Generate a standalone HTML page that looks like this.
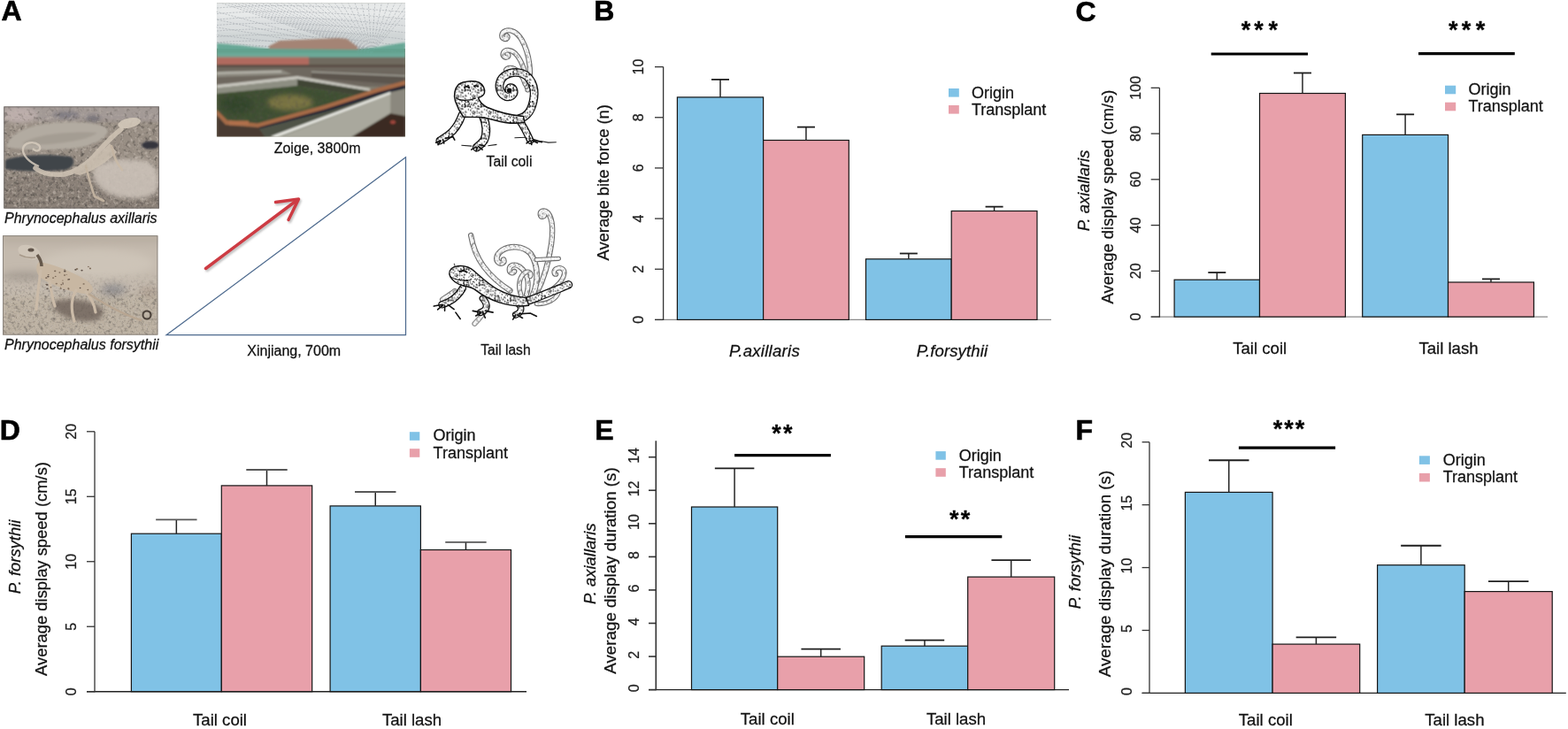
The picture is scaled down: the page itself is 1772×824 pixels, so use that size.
<!DOCTYPE html>
<html><head><meta charset="utf-8"><title>Figure</title>
<style>
html,body{margin:0;padding:0;background:#fff;}
body{width:1772px;height:824px;overflow:hidden;}
svg{display:block;font-family:'Liberation Sans', Arial, Helvetica, sans-serif;}
text{stroke:#1a1a1a;stroke-width:0.28px;}
text.pl{stroke:#000;stroke-width:0.6px;}
</style></head><body>
<svg width="1772" height="824" viewBox="0 0 1772 824">
<rect width="1772" height="824" fill="#fff"/>
<text x="1.5" y="23.4" font-size="32" text-anchor="start" style="font-weight:bold" fill="#000" class="pl">A</text>
<text x="671.2" y="23.2" font-size="32" text-anchor="start" style="font-weight:bold" fill="#000" class="pl">B</text>
<text x="1215.5" y="23.9" font-size="32" text-anchor="start" style="font-weight:bold" fill="#000" class="pl">C</text>
<text x="-0.3" y="496.7" font-size="32" text-anchor="start" style="font-weight:bold" fill="#000" class="pl">D</text>
<text x="672.2" y="496.9" font-size="32" text-anchor="start" style="font-weight:bold" fill="#000" class="pl">E</text>
<text x="1215.5" y="496.5" font-size="32" text-anchor="start" style="font-weight:bold" fill="#000" class="pl">F</text>
<line x1="740" y1="361.4" x2="1188" y2="361.4" stroke="#8a8a8a" stroke-width="1.2" stroke-linecap="butt"/>
<rect x="765.4" y="109.9" width="97.2" height="251.5" fill="#80c2e6" stroke="#151515" stroke-width="1.2"/>
<rect x="862.6" y="158.5" width="96.7" height="202.9" fill="#e8a0aa" stroke="#151515" stroke-width="1.2"/>
<rect x="978.5" y="292.8" width="96.7" height="68.6" fill="#80c2e6" stroke="#151515" stroke-width="1.2"/>
<rect x="1075.2" y="238.5" width="96.8" height="122.9" fill="#e8a0aa" stroke="#151515" stroke-width="1.2"/>
<line x1="814.0" y1="89.88999999999999" x2="814.0" y2="109.89599999999996" stroke="#262626" stroke-width="1.5" stroke-linecap="butt"/>
<line x1="804.0" y1="89.88999999999999" x2="824.0" y2="89.88999999999999" stroke="#1e1e1e" stroke-width="1.8" stroke-linecap="butt"/>
<line x1="910.95" y1="143.6204" x2="910.95" y2="158.482" stroke="#262626" stroke-width="1.5" stroke-linecap="butt"/>
<line x1="900.95" y1="143.6204" x2="920.95" y2="143.6204" stroke="#1e1e1e" stroke-width="1.8" stroke-linecap="butt"/>
<line x1="1026.85" y1="286.5204" x2="1026.85" y2="292.808" stroke="#262626" stroke-width="1.5" stroke-linecap="butt"/>
<line x1="1016.8499999999999" y1="286.5204" x2="1036.85" y2="286.5204" stroke="#1e1e1e" stroke-width="1.8" stroke-linecap="butt"/>
<line x1="1123.6" y1="233.6474" x2="1123.6" y2="238.50599999999997" stroke="#262626" stroke-width="1.5" stroke-linecap="butt"/>
<line x1="1113.6" y1="233.6474" x2="1133.6" y2="233.6474" stroke="#1e1e1e" stroke-width="1.8" stroke-linecap="butt"/>
<line x1="749.6" y1="75.60000000000002" x2="749.6" y2="362.0" stroke="#333" stroke-width="1.3" stroke-linecap="butt"/>
<line x1="740" y1="361.4" x2="749.6" y2="361.4" stroke="#333" stroke-width="1.3" stroke-linecap="butt"/>
<text transform="translate(726.8,361.4) rotate(-90)" font-size="16" text-anchor="middle" style="" fill="#222" >0</text>
<line x1="740" y1="304.24" x2="749.6" y2="304.24" stroke="#333" stroke-width="1.3" stroke-linecap="butt"/>
<text transform="translate(726.8,304.2) rotate(-90)" font-size="16" text-anchor="middle" style="" fill="#222" >2</text>
<line x1="740" y1="247.07999999999998" x2="749.6" y2="247.07999999999998" stroke="#333" stroke-width="1.3" stroke-linecap="butt"/>
<text transform="translate(726.8,247.1) rotate(-90)" font-size="16" text-anchor="middle" style="" fill="#222" >4</text>
<line x1="740" y1="189.92" x2="749.6" y2="189.92" stroke="#333" stroke-width="1.3" stroke-linecap="butt"/>
<text transform="translate(726.8,189.9) rotate(-90)" font-size="16" text-anchor="middle" style="" fill="#222" >6</text>
<line x1="740" y1="132.76" x2="749.6" y2="132.76" stroke="#333" stroke-width="1.3" stroke-linecap="butt"/>
<text transform="translate(726.8,132.8) rotate(-90)" font-size="16" text-anchor="middle" style="" fill="#222" >8</text>
<line x1="740" y1="75.60000000000002" x2="749.6" y2="75.60000000000002" stroke="#333" stroke-width="1.3" stroke-linecap="butt"/>
<text transform="translate(726.8,75.6) rotate(-90)" font-size="16" text-anchor="middle" style="" fill="#222" >10</text>
<rect x="1072" y="100" width="11.8" height="9.6" fill="#80c2e6"/>
<rect x="1072" y="119" width="11.8" height="9.6" fill="#e8a0aa"/>
<text x="1098" y="111.2" font-size="18" text-anchor="start" style="" fill="#111" >Origin</text>
<text x="1098" y="130.2" font-size="18" text-anchor="start" style="" fill="#111" >Transplant</text>
<text x="864" y="402.6" font-size="18.6" text-anchor="middle" style="font-style:italic" fill="#111" letter-spacing="0.25">P.axillaris</text>
<text x="1076" y="402.6" font-size="18.6" text-anchor="middle" style="font-style:italic" fill="#111" letter-spacing="0.1">P.forsythii</text>
<text transform="translate(688.4,206.3) rotate(-90)" font-size="18.4" text-anchor="middle" style="" fill="#111" >Average bite force (n)</text>
<line x1="1300.7" y1="358.1" x2="1749" y2="358.1" stroke="#8a8a8a" stroke-width="1.2" stroke-linecap="butt"/>
<rect x="1327.1" y="316.2" width="96.4" height="41.9" fill="#80c2e6" stroke="#151515" stroke-width="1.2"/>
<rect x="1423.5" y="105.5" width="96.9" height="252.6" fill="#e8a0aa" stroke="#151515" stroke-width="1.2"/>
<rect x="1539.7" y="152.4" width="96.8" height="205.7" fill="#80c2e6" stroke="#151515" stroke-width="1.2"/>
<rect x="1636.5" y="319.0" width="96.9" height="39.1" fill="#e8a0aa" stroke="#151515" stroke-width="1.2"/>
<line x1="1375.3" y1="308.0222" x2="1375.3" y2="316.1744" stroke="#262626" stroke-width="1.5" stroke-linecap="butt"/>
<line x1="1365.3" y1="308.0222" x2="1385.3" y2="308.0222" stroke="#1e1e1e" stroke-width="1.8" stroke-linecap="butt"/>
<line x1="1471.95" y1="82.47800000000001" x2="1471.95" y2="105.51120000000003" stroke="#262626" stroke-width="1.5" stroke-linecap="butt"/>
<line x1="1461.95" y1="82.47800000000001" x2="1481.95" y2="82.47800000000001" stroke="#1e1e1e" stroke-width="1.8" stroke-linecap="butt"/>
<line x1="1588.1" y1="129.3208" x2="1588.1" y2="152.354" stroke="#262626" stroke-width="1.5" stroke-linecap="butt"/>
<line x1="1578.1" y1="129.3208" x2="1598.1" y2="129.3208" stroke="#1e1e1e" stroke-width="1.8" stroke-linecap="butt"/>
<line x1="1684.95" y1="315.398" x2="1684.95" y2="319.0212" stroke="#262626" stroke-width="1.5" stroke-linecap="butt"/>
<line x1="1674.95" y1="315.398" x2="1694.95" y2="315.398" stroke="#1e1e1e" stroke-width="1.8" stroke-linecap="butt"/>
<line x1="1310.4" y1="99.30000000000001" x2="1310.4" y2="358.70000000000005" stroke="#333" stroke-width="1.3" stroke-linecap="butt"/>
<line x1="1300.7" y1="358.1" x2="1310.4" y2="358.1" stroke="#333" stroke-width="1.3" stroke-linecap="butt"/>
<text transform="translate(1289.2,358.1) rotate(-90)" font-size="16" text-anchor="middle" style="" fill="#222" >0</text>
<line x1="1300.7" y1="306.34000000000003" x2="1310.4" y2="306.34000000000003" stroke="#333" stroke-width="1.3" stroke-linecap="butt"/>
<text transform="translate(1289.2,306.3) rotate(-90)" font-size="16" text-anchor="middle" style="" fill="#222" >20</text>
<line x1="1300.7" y1="254.58" x2="1310.4" y2="254.58" stroke="#333" stroke-width="1.3" stroke-linecap="butt"/>
<text transform="translate(1289.2,254.6) rotate(-90)" font-size="16" text-anchor="middle" style="" fill="#222" >40</text>
<line x1="1300.7" y1="202.82000000000002" x2="1310.4" y2="202.82000000000002" stroke="#333" stroke-width="1.3" stroke-linecap="butt"/>
<text transform="translate(1289.2,202.8) rotate(-90)" font-size="16" text-anchor="middle" style="" fill="#222" >60</text>
<line x1="1300.7" y1="151.06" x2="1310.4" y2="151.06" stroke="#333" stroke-width="1.3" stroke-linecap="butt"/>
<text transform="translate(1289.2,151.1) rotate(-90)" font-size="16" text-anchor="middle" style="" fill="#222" >80</text>
<line x1="1300.7" y1="99.30000000000001" x2="1310.4" y2="99.30000000000001" stroke="#333" stroke-width="1.3" stroke-linecap="butt"/>
<text transform="translate(1289.2,99.3) rotate(-90)" font-size="16" text-anchor="middle" style="" fill="#222" >100</text>
<rect x="1633" y="96.7" width="12.2" height="9.6" fill="#80c2e6"/>
<rect x="1633" y="115.7" width="12.2" height="9.6" fill="#e8a0aa"/>
<text x="1659.5" y="107.3" font-size="18" text-anchor="start" style="" fill="#111" >Origin</text>
<text x="1659.5" y="126.4" font-size="18" text-anchor="start" style="" fill="#111" >Transplant</text>
<text x="1423.7" y="399.5" font-size="18.6" text-anchor="middle" style="" fill="#111" >Tail coil</text>
<text x="1637" y="399.5" font-size="18.6" text-anchor="middle" style="" fill="#111" >Tail lash</text>
<text transform="translate(1257.5,222.5) rotate(-90)" font-size="18.4" text-anchor="middle" style="" fill="#111" >Average display speed (cm/s)</text>
<text transform="translate(1231.4,215.5) rotate(-90)" font-size="18.4" text-anchor="middle" style="font-style:italic" fill="#111" >P. axiallaris</text>
<line x1="1368.7" y1="61" x2="1478" y2="61" stroke="#000" stroke-width="3.2" stroke-linecap="butt"/>
<text x="1408" y="43.3" font-size="27" text-anchor="middle" style="font-weight:bold" fill="#000" >*</text>
<text x="1422.5" y="43.3" font-size="27" text-anchor="middle" style="font-weight:bold" fill="#000" >*</text>
<text x="1438.8" y="43.3" font-size="27" text-anchor="middle" style="font-weight:bold" fill="#000" >*</text>
<line x1="1603" y1="60.7" x2="1711.8" y2="60.7" stroke="#000" stroke-width="3.2" stroke-linecap="butt"/>
<text x="1642.3" y="43.2" font-size="27" text-anchor="middle" style="font-weight:bold" fill="#000" >*</text>
<text x="1656.9" y="43.2" font-size="27" text-anchor="middle" style="font-weight:bold" fill="#000" >*</text>
<text x="1672.9" y="43.2" font-size="27" text-anchor="middle" style="font-weight:bold" fill="#000" >*</text>
<line x1="98" y1="781.7" x2="595" y2="781.7" stroke="#222" stroke-width="1.4" stroke-linecap="butt"/>
<rect x="148.4" y="603.2" width="101.9" height="178.5" fill="#80c2e6" stroke="#151515" stroke-width="1.2"/>
<rect x="250.3" y="548.9" width="102.4" height="232.8" fill="#e8a0aa" stroke="#151515" stroke-width="1.2"/>
<rect x="373.1" y="571.9" width="102.3" height="209.8" fill="#80c2e6" stroke="#151515" stroke-width="1.2"/>
<rect x="475.4" y="621.5" width="102.1" height="160.2" fill="#e8a0aa" stroke="#151515" stroke-width="1.2"/>
<line x1="199.35000000000002" y1="587.4321" x2="199.35000000000002" y2="603.15575" stroke="#222" stroke-width="1.5" stroke-linecap="butt"/>
<line x1="176.15000000000003" y1="587.4321" x2="222.55" y2="587.4321" stroke="#585858" stroke-width="1.8" stroke-linecap="butt"/>
<line x1="301.5" y1="531.0033000000001" x2="301.5" y2="548.9312" stroke="#222" stroke-width="1.5" stroke-linecap="butt"/>
<line x1="278.3" y1="531.0033000000001" x2="324.7" y2="531.0033000000001" stroke="#585858" stroke-width="1.8" stroke-linecap="butt"/>
<line x1="424.25" y1="555.9848000000001" x2="424.25" y2="571.8554" stroke="#222" stroke-width="1.5" stroke-linecap="butt"/>
<line x1="401.05" y1="555.9848000000001" x2="447.45" y2="555.9848000000001" stroke="#585858" stroke-width="1.8" stroke-linecap="butt"/>
<line x1="526.45" y1="612.85445" x2="526.45" y2="621.5245" stroke="#222" stroke-width="1.5" stroke-linecap="butt"/>
<line x1="503.25000000000006" y1="612.85445" x2="549.6500000000001" y2="612.85445" stroke="#585858" stroke-width="1.8" stroke-linecap="butt"/>
<line x1="107" y1="487.80000000000007" x2="107" y2="782.3000000000001" stroke="#333" stroke-width="1.3" stroke-linecap="butt"/>
<line x1="98" y1="781.7" x2="107" y2="781.7" stroke="#333" stroke-width="1.3" stroke-linecap="butt"/>
<text transform="translate(85.7,781.7) rotate(-90)" font-size="16" text-anchor="middle" style="" fill="#222" >0</text>
<line x1="98" y1="708.225" x2="107" y2="708.225" stroke="#333" stroke-width="1.3" stroke-linecap="butt"/>
<text transform="translate(85.7,708.2) rotate(-90)" font-size="16" text-anchor="middle" style="" fill="#222" >5</text>
<line x1="98" y1="634.75" x2="107" y2="634.75" stroke="#333" stroke-width="1.3" stroke-linecap="butt"/>
<text transform="translate(85.7,634.8) rotate(-90)" font-size="16" text-anchor="middle" style="" fill="#222" >10</text>
<line x1="98" y1="561.2750000000001" x2="107" y2="561.2750000000001" stroke="#333" stroke-width="1.3" stroke-linecap="butt"/>
<text transform="translate(85.7,561.3) rotate(-90)" font-size="16" text-anchor="middle" style="" fill="#222" >15</text>
<line x1="98" y1="487.80000000000007" x2="107" y2="487.80000000000007" stroke="#333" stroke-width="1.3" stroke-linecap="butt"/>
<text transform="translate(85.7,487.8) rotate(-90)" font-size="16" text-anchor="middle" style="" fill="#222" >20</text>
<rect x="462.9" y="488.2" width="11.4" height="9.6" fill="#80c2e6"/>
<rect x="462.9" y="507.2" width="11.4" height="9.6" fill="#e8a0aa"/>
<text x="489.6" y="498.2" font-size="18" text-anchor="start" style="" fill="#111" >Origin</text>
<text x="489.6" y="517.7" font-size="18" text-anchor="start" style="" fill="#111" >Transplant</text>
<text x="248.5" y="819.9" font-size="18.6" text-anchor="middle" style="" fill="#111" >Tail coil</text>
<text x="465.5" y="820.2" font-size="18.6" text-anchor="middle" style="" fill="#111" >Tail lash</text>
<text transform="translate(52.6,643) rotate(-90)" font-size="18.4" text-anchor="middle" style="" fill="#111" >Average display speed (cm/s)</text>
<text transform="translate(22.6,629.4) rotate(-90)" font-size="18.4" text-anchor="middle" style="font-style:italic" fill="#111" >P. forsythii</text>
<line x1="733" y1="779.6" x2="1208" y2="779.6" stroke="#222" stroke-width="1.4" stroke-linecap="butt"/>
<rect x="781.5" y="573.0" width="97.2" height="206.6" fill="#80c2e6" stroke="#151515" stroke-width="1.2"/>
<rect x="878.7" y="742.2" width="98.0" height="37.4" fill="#e8a0aa" stroke="#151515" stroke-width="1.2"/>
<rect x="996.2" y="730.2" width="97.5" height="49.4" fill="#80c2e6" stroke="#151515" stroke-width="1.2"/>
<rect x="1093.7" y="652.1" width="98.0" height="127.5" fill="#e8a0aa" stroke="#151515" stroke-width="1.2"/>
<line x1="830.1" y1="529.4504" x2="830.1" y2="573.02" stroke="#262626" stroke-width="1.5" stroke-linecap="butt"/>
<line x1="807.85" y1="529.4504" x2="852.35" y2="529.4504" stroke="#1e1e1e" stroke-width="1.8" stroke-linecap="butt"/>
<line x1="927.7" y1="733.589" x2="927.7" y2="742.2278" stroke="#262626" stroke-width="1.5" stroke-linecap="butt"/>
<line x1="905.45" y1="733.589" x2="949.95" y2="733.589" stroke="#1e1e1e" stroke-width="1.8" stroke-linecap="butt"/>
<line x1="1044.95" y1="723.6356000000001" x2="1044.95" y2="730.2086" stroke="#262626" stroke-width="1.5" stroke-linecap="butt"/>
<line x1="1022.7" y1="723.6356000000001" x2="1067.2" y2="723.6356000000001" stroke="#1e1e1e" stroke-width="1.8" stroke-linecap="butt"/>
<line x1="1142.7" y1="633.116" x2="1142.7" y2="652.0838" stroke="#262626" stroke-width="1.5" stroke-linecap="butt"/>
<line x1="1120.45" y1="633.116" x2="1164.95" y2="633.116" stroke="#1e1e1e" stroke-width="1.8" stroke-linecap="butt"/>
<line x1="741.3" y1="498.2" x2="741.3" y2="780.2" stroke="#333" stroke-width="1.6" stroke-linecap="butt"/>
<line x1="733" y1="779.6" x2="741.3" y2="779.6" stroke="#333" stroke-width="1.6" stroke-linecap="butt"/>
<text transform="translate(721.5,777.8) rotate(-90)" font-size="16" text-anchor="middle" style="" fill="#222" >0</text>
<line x1="733" y1="742.04" x2="741.3" y2="742.04" stroke="#333" stroke-width="1.6" stroke-linecap="butt"/>
<text transform="translate(721.5,740.2) rotate(-90)" font-size="16" text-anchor="middle" style="" fill="#222" >2</text>
<line x1="733" y1="704.48" x2="741.3" y2="704.48" stroke="#333" stroke-width="1.6" stroke-linecap="butt"/>
<text transform="translate(721.5,702.7) rotate(-90)" font-size="16" text-anchor="middle" style="" fill="#222" >4</text>
<line x1="733" y1="666.9200000000001" x2="741.3" y2="666.9200000000001" stroke="#333" stroke-width="1.6" stroke-linecap="butt"/>
<text transform="translate(721.5,665.1) rotate(-90)" font-size="16" text-anchor="middle" style="" fill="#222" >6</text>
<line x1="733" y1="629.36" x2="741.3" y2="629.36" stroke="#333" stroke-width="1.6" stroke-linecap="butt"/>
<text transform="translate(721.5,627.6) rotate(-90)" font-size="16" text-anchor="middle" style="" fill="#222" >8</text>
<line x1="733" y1="591.8" x2="741.3" y2="591.8" stroke="#333" stroke-width="1.6" stroke-linecap="butt"/>
<text transform="translate(721.5,590.0) rotate(-90)" font-size="16" text-anchor="middle" style="" fill="#222" >10</text>
<line x1="733" y1="554.24" x2="741.3" y2="554.24" stroke="#333" stroke-width="1.6" stroke-linecap="butt"/>
<text transform="translate(721.5,552.4) rotate(-90)" font-size="16" text-anchor="middle" style="" fill="#222" >12</text>
<line x1="733" y1="516.6800000000001" x2="741.3" y2="516.6800000000001" stroke="#333" stroke-width="1.6" stroke-linecap="butt"/>
<text transform="translate(721.5,514.9) rotate(-90)" font-size="16" text-anchor="middle" style="" fill="#222" >14</text>
<rect x="1057.4" y="510.1" width="11.4" height="9.6" fill="#80c2e6"/>
<rect x="1057.4" y="529.2" width="11.4" height="9.6" fill="#e8a0aa"/>
<text x="1083.8" y="520.8" font-size="18" text-anchor="start" style="" fill="#111" >Origin</text>
<text x="1083.8" y="539.8" font-size="18" text-anchor="start" style="" fill="#111" >Transplant</text>
<text x="867.3" y="819" font-size="18.6" text-anchor="middle" style="" fill="#111" >Tail coil</text>
<text x="1080.5" y="819" font-size="18.6" text-anchor="middle" style="" fill="#111" >Tail lash</text>
<text transform="translate(695.6,645) rotate(-90)" font-size="18.8" text-anchor="middle" style="" fill="#111" >Average display duration (s)</text>
<text transform="translate(672.5,637.2) rotate(-90)" font-size="18.4" text-anchor="middle" style="font-style:italic" fill="#111" >P. axiallaris</text>
<line x1="830.1" y1="514.6" x2="938.9" y2="514.6" stroke="#000" stroke-width="3.2" stroke-linecap="butt"/>
<text x="877.6" y="498.8" font-size="27" text-anchor="middle" style="font-weight:bold" fill="#000" >*</text>
<text x="890.3" y="498.8" font-size="27" text-anchor="middle" style="font-weight:bold" fill="#000" >*</text>
<line x1="1022.9" y1="606.6" x2="1132.3" y2="606.6" stroke="#000" stroke-width="3.2" stroke-linecap="butt"/>
<text x="1078.3" y="595.5" font-size="27" text-anchor="middle" style="font-weight:bold" fill="#000" >*</text>
<text x="1091" y="595.5" font-size="27" text-anchor="middle" style="font-weight:bold" fill="#000" >*</text>
<line x1="1290.6" y1="783.4" x2="1769.8" y2="783.4" stroke="#222" stroke-width="1.4" stroke-linecap="butt"/>
<rect x="1339.4" y="556.4" width="98.7" height="227.0" fill="#80c2e6" stroke="#151515" stroke-width="1.2"/>
<rect x="1438.1" y="728.1" width="98.6" height="55.3" fill="#e8a0aa" stroke="#151515" stroke-width="1.2"/>
<rect x="1556.6" y="638.7" width="98.6" height="144.7" fill="#80c2e6" stroke="#151515" stroke-width="1.2"/>
<rect x="1655.2" y="668.6" width="99.0" height="114.8" fill="#e8a0aa" stroke="#151515" stroke-width="1.2"/>
<line x1="1388.75" y1="520.26825" x2="1388.75" y2="556.4399999999999" stroke="#262626" stroke-width="1.5" stroke-linecap="butt"/>
<line x1="1366.0" y1="520.26825" x2="1411.5" y2="520.26825" stroke="#1e1e1e" stroke-width="1.8" stroke-linecap="butt"/>
<line x1="1487.4" y1="720.27675" x2="1487.4" y2="728.0785" stroke="#262626" stroke-width="1.5" stroke-linecap="butt"/>
<line x1="1464.65" y1="720.27675" x2="1510.15" y2="720.27675" stroke="#1e1e1e" stroke-width="1.8" stroke-linecap="butt"/>
<line x1="1605.9" y1="616.7262499999999" x2="1605.9" y2="638.713" stroke="#262626" stroke-width="1.5" stroke-linecap="butt"/>
<line x1="1583.15" y1="616.7262499999999" x2="1628.65" y2="616.7262499999999" stroke="#1e1e1e" stroke-width="1.8" stroke-linecap="butt"/>
<line x1="1704.7" y1="657.1535" x2="1704.7" y2="668.6433499999999" stroke="#262626" stroke-width="1.5" stroke-linecap="butt"/>
<line x1="1681.95" y1="657.1535" x2="1727.45" y2="657.1535" stroke="#1e1e1e" stroke-width="1.8" stroke-linecap="butt"/>
<line x1="1299" y1="499.7" x2="1299" y2="784.0" stroke="#333" stroke-width="1.3" stroke-linecap="butt"/>
<line x1="1290.6" y1="783.4" x2="1299" y2="783.4" stroke="#333" stroke-width="1.3" stroke-linecap="butt"/>
<text transform="translate(1279.4,781.5) rotate(-90)" font-size="16" text-anchor="middle" style="" fill="#222" >0</text>
<line x1="1290.6" y1="712.475" x2="1299" y2="712.475" stroke="#333" stroke-width="1.3" stroke-linecap="butt"/>
<text transform="translate(1279.4,710.6) rotate(-90)" font-size="16" text-anchor="middle" style="" fill="#222" >5</text>
<line x1="1290.6" y1="641.55" x2="1299" y2="641.55" stroke="#333" stroke-width="1.3" stroke-linecap="butt"/>
<text transform="translate(1279.4,639.6) rotate(-90)" font-size="16" text-anchor="middle" style="" fill="#222" >10</text>
<line x1="1290.6" y1="570.625" x2="1299" y2="570.625" stroke="#333" stroke-width="1.3" stroke-linecap="butt"/>
<text transform="translate(1279.4,568.7) rotate(-90)" font-size="16" text-anchor="middle" style="" fill="#222" >15</text>
<line x1="1290.6" y1="499.7" x2="1299" y2="499.7" stroke="#333" stroke-width="1.3" stroke-linecap="butt"/>
<text transform="translate(1279.4,497.8) rotate(-90)" font-size="16" text-anchor="middle" style="" fill="#222" >20</text>
<rect x="1603.9" y="515.3" width="12" height="9.6" fill="#80c2e6"/>
<rect x="1603.9" y="534.9" width="12" height="9.6" fill="#e8a0aa"/>
<text x="1630.7" y="525.9" font-size="18" text-anchor="start" style="" fill="#111" >Origin</text>
<text x="1630.7" y="544.8" font-size="18" text-anchor="start" style="" fill="#111" >Transplant</text>
<text x="1430.3" y="820.1" font-size="18.6" text-anchor="middle" style="" fill="#111" >Tail coil</text>
<text x="1643.9" y="820.1" font-size="18.6" text-anchor="middle" style="" fill="#111" >Tail lash</text>
<text transform="translate(1254.6,648.5) rotate(-90)" font-size="18.8" text-anchor="middle" style="" fill="#111" >Average display duration (s)</text>
<text transform="translate(1221,646.6) rotate(-90)" font-size="18.4" text-anchor="middle" style="font-style:italic" fill="#111" >P. forsythii</text>
<line x1="1399.9" y1="506.1" x2="1509.1" y2="506.1" stroke="#000" stroke-width="3.2" stroke-linecap="butt"/>
<text x="1444.1" y="493.8" font-size="27" text-anchor="middle" style="font-weight:bold" fill="#000" >*</text>
<text x="1456.5" y="493.8" font-size="27" text-anchor="middle" style="font-weight:bold" fill="#000" >*</text>
<text x="1469.1" y="493.8" font-size="27" text-anchor="middle" style="font-weight:bold" fill="#000" >*</text>
<text x="5" y="251.6" font-size="16" text-anchor="start" style="font-style:italic" fill="#111" >Phrynocephalus axillaris</text>
<text x="5" y="394.8" font-size="16" text-anchor="start" style="font-style:italic" fill="#111" >Phrynocephalus forsythii</text>
<text x="358.6" y="172.5" font-size="16" text-anchor="middle" style="" fill="#111" >Zoige, 3800m</text>
<text x="332.2" y="401.5" font-size="16" text-anchor="middle" style="" fill="#111" >Xinjiang, 700m</text>
<text x="575.5" y="188.2" font-size="15.8" text-anchor="middle" style="" fill="#111" >Tail coli</text>
<text x="571.4" y="400.8" font-size="15.6" text-anchor="middle" style="" fill="#111" >Tail lash</text>
<polygon points="188.2,378.6 458.5,177.8 458.5,378.6" fill="none" stroke="#4d6a8e" stroke-width="1.25"/>
<g stroke="#9a9a9a" stroke-width="3.6" stroke-linecap="round" stroke-linejoin="round" fill="none" filter="url(#b1)" opacity="0.6" transform="translate(1.5,2)"><line x1="232.5" y1="303.5" x2="336" y2="226"/><polyline points="311.5,228.5 337.5,225 326,248.5"/></g>
<g stroke="#cd3b43" stroke-width="3.5" stroke-linecap="round" stroke-linejoin="round" fill="none"><line x1="232.5" y1="303.5" x2="336" y2="226"/><polyline points="311.5,228.5 337.5,225 326,248.5"/></g>
<defs>
<filter id="b1" x="-20%" y="-20%" width="140%" height="140%"><feGaussianBlur stdDeviation="1.2"/></filter>
<filter id="b2" x="-30%" y="-30%" width="160%" height="160%"><feGaussianBlur stdDeviation="2.5"/></filter>
<filter id="b3" x="-30%" y="-30%" width="160%" height="160%"><feGaussianBlur stdDeviation="5"/></filter>
<filter id="b05"><feGaussianBlur stdDeviation="0.5"/></filter>
<filter id="gdark" x="0" y="0" width="100%" height="100%" color-interpolation-filters="sRGB">
 <feTurbulence type="fractalNoise" baseFrequency="0.35" numOctaves="3" seed="3"/>
 <feColorMatrix type="matrix" values="0 0 0 0 0.30  0 0 0 0 0.28  0 0 0 0 0.27  -3.2 0 0 0 1.5"/>
</filter>
<filter id="glight" x="0" y="0" width="100%" height="100%" color-interpolation-filters="sRGB">
 <feTurbulence type="fractalNoise" baseFrequency="0.4" numOctaves="3" seed="11"/>
 <feColorMatrix type="matrix" values="0 0 0 0 0.80  0 0 0 0 0.77  0 0 0 0 0.74  3.0 0 0 0 -1.62"/>
</filter>
<filter id="gfine" x="0" y="0" width="100%" height="100%" color-interpolation-filters="sRGB">
 <feTurbulence type="fractalNoise" baseFrequency="0.8" numOctaves="2" seed="5"/>
 <feColorMatrix type="matrix" values="0 0 0 0 0.3  0 0 0 0 0.28  0 0 0 0 0.26  -3.0 0 0 0 1.4"/>
</filter>
<filter id="pdark" x="0" y="0" width="100%" height="100%" color-interpolation-filters="sRGB">
 <feTurbulence type="fractalNoise" baseFrequency="0.22" numOctaves="2" seed="21"/>
 <feColorMatrix type="matrix" values="0 0 0 0 0.33  0 0 0 0 0.31  0 0 0 0 0.29  -3.4 0 0 0 1.55"/>
</filter>
<filter id="plight" x="0" y="0" width="100%" height="100%" color-interpolation-filters="sRGB">
 <feTurbulence type="fractalNoise" baseFrequency="0.25" numOctaves="2" seed="33"/>
 <feColorMatrix type="matrix" values="0 0 0 0 0.78  0 0 0 0 0.74  0 0 0 0 0.70  3.2 0 0 0 -1.65"/>
</filter>
<linearGradient id="lg2" x1="0" y1="0" x2="0" y2="1"><stop offset="0" stop-color="#fff" stop-opacity="0"/><stop offset="0.35" stop-color="#fff" stop-opacity="1"/></linearGradient>
<mask id="m2" maskUnits="userSpaceOnUse" x="0" y="300" width="190" height="90"><rect x="0" y="308" width="190" height="80" fill="url(#lg2)"/></mask>
<linearGradient id="lg1" x1="0" y1="0" x2="0" y2="1"><stop offset="0" stop-color="#fff" stop-opacity="0.35"/><stop offset="0.22" stop-color="#fff" stop-opacity="1"/></linearGradient>
<mask id="m1" maskUnits="userSpaceOnUse" x="0" y="115" width="190" height="125"><rect x="0" y="120" width="190" height="116" fill="url(#lg1)"/></mask>
<clipPath id="cp1"><rect x="4.4" y="120.5" width="175.4" height="114.9"/></clipPath>
<clipPath id="cp2"><rect x="3" y="266.3" width="175.3" height="112.2"/></clipPath>
<clipPath id="cpgrass"><path d="M245,106 L336,97 L405,108 L366,121 L291,141 L257,138 L245,125 Z"/></clipPath>
<clipPath id="cp3"><rect x="244.7" y="3.4" width="213.3" height="151.2"/></clipPath>
</defs>
<g clip-path="url(#cp1)"><rect x="4" y="120" width="176" height="116" fill="#988e84"/><g filter="url(#b2)"><rect x="0" y="115" width="190" height="22" fill="#a39a96"/><ellipse cx="22" cy="130" rx="20" ry="9" fill="#bcaeab"/><ellipse cx="75" cy="130" rx="15" ry="4" fill="#7c7880"/><ellipse cx="105" cy="134" rx="9" ry="4" fill="#77737a"/><rect x="0" y="200" width="190" height="45" fill="#8b8178"/></g><g filter="url(#b05)" mask="url(#m1)"><rect x="4" y="120" width="176" height="116" filter="url(#pdark)" opacity="0.8"/><rect x="4" y="120" width="176" height="116" filter="url(#plight)" opacity="0.65"/><rect x="5" y="185" width="175" height="51" filter="url(#gdark)" opacity="0.5"/></g><g filter="url(#b1)"><path d="M7,166 C10,148 40,138 80,138 C105,138 120,141 122,148 C118,160 100,166 80,168 C50,170 25,170 7,166 Z" fill="#b2aba1"/><path d="M25,162 C40,152 75,148 110,150 C100,158 75,162 40,164 Z" fill="#a09a90" opacity="0.8"/></g><g filter="url(#b2)"><path d="M106,190 C115,180 140,178 165,182 C178,186 182,200 178,215 C170,226 150,226 130,222 C112,216 102,202 106,190 Z" fill="#cbc1b8" opacity="0.9"/></g><g filter="url(#b1)"><path d="M6,181 C20,175 55,174 80,177 C86,181 84,189 74,192 C50,194 20,194 6,191 Z" fill="#3f444a"/><ellipse cx="170" cy="164" rx="10" ry="4.5" fill="#36363c"/></g><g filter="url(#b05)" opacity="0.85"><path d="M44,188 C34,184 25,176 26,168 C27,161 38,159 44,164 C48,169 42,173 37,168" stroke="#d6ccbe" stroke-width="2.4" fill="none"/><path d="M40,190 C48,197 60,198 72,197 C85,195 95,188 105,178 C115,167 125,155 137,146" stroke="#d0c5b6" stroke-width="5.5" fill="none" stroke-linecap="round"/><path d="M80,195 C95,188 110,176 124,162 L132,172 C120,184 104,194 90,198 Z" fill="#cdc1b2"/><ellipse cx="146" cy="139" rx="13" ry="5.5" fill="#d6ccbc" transform="rotate(-12 146 139)"/><path d="M97,188 C100,200 103,212 107,222 L117,227 M126,165 C128,175 132,185 138,192" stroke="#cbbba7" stroke-width="2.6" fill="none" stroke-linecap="round"/></g></g><rect x="4.8" y="120.9" width="174.6" height="114.1" fill="none" stroke="#6e6a68" stroke-width="0.8"/>
<g clip-path="url(#cp2)"><rect x="3" y="266" width="176" height="113" fill="#c4baae"/><g filter="url(#b3)"><rect x="0" y="262" width="190" height="14" fill="#b9afa3"/><ellipse cx="110" cy="298" rx="65" ry="16" fill="#cdc4b8"/><ellipse cx="28" cy="312" rx="26" ry="5" fill="#a49b92"/><ellipse cx="128" cy="328" rx="14" ry="6" fill="#8a898c"/><ellipse cx="168" cy="335" rx="12" ry="10" fill="#a8988a"/><rect x="0" y="334" width="190" height="50" fill="#bdb2a3"/></g><g filter="url(#b05)" mask="url(#m2)"><rect x="4" y="308" width="175" height="71" filter="url(#pdark)" opacity="0.45"/><rect x="4" y="308" width="175" height="71" filter="url(#gdark)" opacity="0.35"/><rect x="4" y="308" width="175" height="71" filter="url(#glight)" opacity="0.5" style="mix-blend-mode:screen"/></g><g filter="url(#b2)"><path d="M58,342 C75,336 98,338 112,346 C120,352 118,362 102,363 C82,364 62,356 58,342 Z" fill="#6e625a" opacity="0.8"/></g><g filter="url(#b05)"><path d="M44,296 C58,298 80,306 96,316 C106,322 108,330 100,332 C84,332 62,324 46,314 C40,308 40,300 44,296 Z" fill="#c8b7a2"/><ellipse cx="33" cy="285" rx="13" ry="7.5" fill="#cfc5b8" transform="rotate(18 33 285)"/><ellipse cx="35" cy="282.5" rx="3.5" ry="2" fill="#5e5248"/><path d="M22,288 C28,291 34,292 40,291" stroke="#a89a8a" stroke-width="1.5" fill="none"/><path d="M42,288 C45,292 47,296 47,301" stroke="#65584c" stroke-width="3.5" fill="none"/><path d="M46,306 C44,320 42,335 41,350 M56,318 C58,330 60,340 62,346 M86,328 C80,338 80,350 84,363 M97,330 C104,338 107,346 108,353" stroke="#cbbba8" stroke-width="3.2" fill="none" stroke-linecap="round"/><path d="M100,332 C120,345 140,356 160,362" stroke="#b8a692" stroke-width="2.5" fill="none"/><circle cx="166" cy="356" r="4.5" fill="none" stroke="#4a3f38" stroke-width="2"/></g><ellipse cx="75.2" cy="310.5" rx="0.7" ry="0.6" fill="#8a7866"/><ellipse cx="52.3" cy="314.1" rx="1.2" ry="0.9" fill="#7c6a5a"/><ellipse cx="68.7" cy="326.2" rx="1.1" ry="0.9" fill="#8a7866"/><ellipse cx="71.0" cy="319.7" rx="0.9" ry="0.7" fill="#8a7866"/><ellipse cx="73.1" cy="304.7" rx="0.7" ry="0.5" fill="#7c6a5a"/><ellipse cx="77.3" cy="325.9" rx="1.0" ry="0.8" fill="#8a7866"/><ellipse cx="71.2" cy="320.9" rx="0.7" ry="0.6" fill="#5e5048"/><ellipse cx="62.2" cy="306.3" rx="1.2" ry="0.9" fill="#7c6a5a"/><ellipse cx="90.6" cy="325.5" rx="0.9" ry="0.7" fill="#5e5048"/><ellipse cx="92.5" cy="305.6" rx="1.2" ry="0.9" fill="#5e5048"/><ellipse cx="54.7" cy="310.6" rx="1.0" ry="0.7" fill="#7c6a5a"/><ellipse cx="63.8" cy="320.6" rx="1.2" ry="0.9" fill="#8a7866"/><ellipse cx="52.2" cy="321.4" rx="0.8" ry="0.6" fill="#7c6a5a"/><ellipse cx="68.5" cy="325.0" rx="0.7" ry="0.6" fill="#7c6a5a"/><ellipse cx="77.0" cy="316.0" rx="1.0" ry="0.8" fill="#7c6a5a"/><ellipse cx="73.0" cy="311.1" rx="1.1" ry="0.8" fill="#7c6a5a"/><ellipse cx="87.0" cy="304.1" rx="1.3" ry="1.0" fill="#8a7866"/><ellipse cx="99.9" cy="301.5" rx="1.0" ry="0.8" fill="#8a7866"/><ellipse cx="94.6" cy="320.9" rx="1.1" ry="0.9" fill="#8a7866"/><ellipse cx="101.9" cy="303.4" rx="1.1" ry="0.9" fill="#7c6a5a"/><ellipse cx="60.1" cy="314.1" rx="1.1" ry="0.9" fill="#8a7866"/><ellipse cx="78.1" cy="315.8" rx="1.1" ry="0.8" fill="#5e5048"/><ellipse cx="57.5" cy="324.7" rx="0.9" ry="0.7" fill="#7c6a5a"/><ellipse cx="72.1" cy="327.6" rx="1.0" ry="0.8" fill="#7c6a5a"/><ellipse cx="70.9" cy="317.0" rx="0.7" ry="0.5" fill="#7c6a5a"/><ellipse cx="62.7" cy="312.4" rx="0.9" ry="0.7" fill="#7c6a5a"/><ellipse cx="67.4" cy="308.0" rx="1.0" ry="0.8" fill="#7c6a5a"/><ellipse cx="53.3" cy="321.9" rx="1.2" ry="0.9" fill="#5e5048"/><ellipse cx="69.3" cy="321.8" rx="1.0" ry="0.8" fill="#7c6a5a"/><ellipse cx="73.3" cy="306.5" rx="1.3" ry="1.0" fill="#5e5048"/><ellipse cx="77.5" cy="326.8" rx="1.0" ry="0.8" fill="#7c6a5a"/><ellipse cx="85.4" cy="304.8" rx="1.2" ry="0.9" fill="#5e5048"/><ellipse cx="53.5" cy="326.3" rx="1.2" ry="0.9" fill="#5e5048"/><ellipse cx="99.3" cy="327.6" rx="1.0" ry="0.8" fill="#7c6a5a"/><ellipse cx="54.4" cy="312.6" rx="1.2" ry="0.9" fill="#5e5048"/></g><rect x="3.4" y="266.7" width="174.5" height="111.4" fill="none" stroke="#807a74" stroke-width="0.8"/>
<g clip-path="url(#cp3)"><rect x="245" y="3" width="213" height="152" fill="#868676"/><rect x="245" y="3" width="213" height="52" fill="#dcdfe0"/><g filter="url(#b2)"><rect x="245" y="3" width="213" height="18" fill="#e8eaea"/><rect x="245" y="36" width="213" height="16" fill="#d0d5d6"/></g><g stroke="#a4aaae" stroke-width="0.6" fill="none" stroke-dasharray="2.2 1.4"><line x1="420" y1="60" x2="240" y2="0"/><line x1="420" y1="60" x2="248" y2="0"/><line x1="420" y1="60" x2="256" y2="0"/><line x1="420" y1="60" x2="264" y2="0"/><line x1="420" y1="60" x2="272" y2="0"/><line x1="420" y1="60" x2="280" y2="0"/><line x1="420" y1="60" x2="288" y2="0"/><line x1="420" y1="60" x2="296" y2="0"/><line x1="420" y1="60" x2="304" y2="0"/><line x1="420" y1="60" x2="312" y2="0"/><line x1="420" y1="60" x2="320" y2="0"/><line x1="420" y1="60" x2="328" y2="0"/><line x1="420" y1="60" x2="336" y2="0"/><line x1="420" y1="60" x2="344" y2="0"/><line x1="420" y1="60" x2="352" y2="0"/><line x1="420" y1="60" x2="360" y2="0"/><line x1="420" y1="60" x2="368" y2="0"/><line x1="420" y1="60" x2="376" y2="0"/><line x1="420" y1="60" x2="384" y2="0"/><line x1="420" y1="60" x2="392" y2="0"/><line x1="420" y1="60" x2="400" y2="0"/><line x1="420" y1="60" x2="408" y2="0"/><line x1="420" y1="60" x2="416" y2="0"/><line x1="420" y1="60" x2="424" y2="0"/><line x1="420" y1="60" x2="432" y2="0"/><line x1="420" y1="60" x2="440" y2="0"/><line x1="420" y1="60" x2="448" y2="0"/><line x1="420" y1="60" x2="456" y2="0"/><line x1="420" y1="60" x2="464" y2="0"/><line x1="420" y1="60" x2="472" y2="0"/><line x1="420" y1="60" x2="240" y2="12"/><line x1="420" y1="60" x2="240" y2="21"/><line x1="420" y1="60" x2="240" y2="30"/><line x1="420" y1="60" x2="240" y2="39"/><line x1="420" y1="60" x2="240" y2="48"/><path d="M245,9.0 Q330,2.0 460,14.0"/><path d="M245,15.5 Q330,8.5 460,21.7"/><path d="M245,22.0 Q330,15.0 460,29.4"/><path d="M245,28.5 Q330,21.5 460,37.1"/><path d="M245,35.0 Q330,28.0 460,44.8"/><path d="M245,41.5 Q330,34.5 460,52.5"/><path d="M245,48.0 Q330,41.0 460,60.2"/><path d="M245,54.5 Q330,47.5 460,67.9"/></g><g filter="url(#b1)"><path d="M304,52 L316,46 L382,43 L392,44 L404,53 L404,62 L304,62 Z" fill="#a48474"/><path d="M245,49 C262,50 285,53 306,55 L404,56 C420,54 440,51 458,48 L458,67 L245,67 Z" fill="#5ea490" opacity="0.92"/><rect x="245" y="63" width="104" height="11" fill="#b06b5e"/><rect x="349" y="64" width="109" height="10" fill="#706a5e"/><rect x="245" y="60" width="213" height="5" fill="#6fae9c" opacity="0.7"/><rect x="245" y="73" width="213" height="6" fill="#5a4d44"/><rect x="245" y="76" width="213" height="22" fill="#6e685e"/><path d="M245,81 L318,79 L330,84 L245,87 Z" fill="#8f8c82"/><path d="M245,82 L318,80 L318,81.5 L245,83.5 Z" fill="#c4c3ba"/><path d="M352,80 L458,84 L458,96 L352,88 Z" fill="#5c554d"/><path d="M352,80.5 L458,85 L458,86.5 L352,82 Z" fill="#a9a79e"/><path d="M245,96 L336,86 L418,100 L418,103 L336,89.5 L245,99.5 Z" fill="#c9c8c0"/><path d="M245,99.5 L336,89.5 L336,97 L245,106 Z" fill="#8d8e82"/><path d="M336,89.5 L418,103 L405,108 L336,97 Z" fill="#3f4536"/><path d="M245,106 L336,97 L405,108 L366,121 L291,141 L257,138 L245,125 Z" fill="#3e4f30"/><g clip-path="url(#cpgrass)"><g filter="url(#b2)"><ellipse cx="328" cy="116" rx="26" ry="9" fill="#7a7442"/><ellipse cx="268" cy="118" rx="18" ry="10" fill="#31452a"/></g><rect x="245" y="96" width="162" height="46" filter="url(#gdark)" opacity="0.8"/><rect x="245" y="96" width="162" height="46" filter="url(#glight)" opacity="0.12"/></g><path d="M418,100 L458,93 L458,99 L425,106 Z" fill="#7d7468"/><path d="M291,142 L366,123 L427,103 L458,95 L458,100 L428,108 L367,127 L293,146 Z" fill="#1f2330"/><path d="M245,124 L257,136 L291,139.5 L366,119 L427,99.5 L458,91 L458,96 L428,104 L367,123.5 L292,144 L255,141 L245,130 Z" fill="#a66a47"/><path d="M245,130 L255,141 L292,144 L300,155 L245,155 Z" fill="#4a3b30"/><rect x="259" y="136.5" width="22" height="5" fill="#b0704c"/><path d="M293,146 L367,127 L428,108 L441,104 L441,106 L320,153 L300,155 Z" fill="#4f5347"/><path d="M306,154 L441.5,103.5 L441.5,106.5 L312,155.5 Z" fill="#e8e8e2"/><path d="M316,155 L441.5,106.5 L441.5,128 L397,155 Z" fill="#a9a89d"/><path d="M397,155 L441.5,128 L458,131 L458,155 Z" fill="#3a2c22"/><ellipse cx="444" cy="138" rx="3" ry="2" fill="#a0473c"/><path d="M441.5,104 L458,101 L458,131 L441.5,128 Z" fill="#8b887e"/></g></g>
<defs><pattern id="stip" width="100" height="100" patternUnits="userSpaceOnUse"><rect width="100" height="100" fill="#fff"/><g fill="#222"><circle cx="63.9" cy="2.5" r="2.7"/><circle cx="22.3" cy="73.6" r="4.1"/><circle cx="89.2" cy="8.7" r="3.2"/><circle cx="3.0" cy="21.9" r="3.5"/><circle cx="2.7" cy="19.9" r="4.0"/><circle cx="54.5" cy="22.0" r="3.8"/><circle cx="80.9" cy="0.6" r="4.5"/><circle cx="69.8" cy="34.0" r="2.3"/><circle cx="95.7" cy="33.7" r="2.1"/><circle cx="9.7" cy="84.7" r="3.9"/><circle cx="80.7" cy="73.0" r="3.6"/><circle cx="97.3" cy="37.9" r="3.7"/><circle cx="82.9" cy="61.9" r="4.7"/><circle cx="57.7" cy="70.5" r="2.0"/><circle cx="22.8" cy="28.9" r="2.1"/><circle cx="23.3" cy="10.1" r="2.7"/><circle cx="63.6" cy="36.5" r="3.1"/><circle cx="21.0" cy="26.7" r="5.0"/><circle cx="64.8" cy="60.9" r="2.4"/><circle cx="72.9" cy="16.3" r="3.1"/><circle cx="99.0" cy="64.0" r="3.7"/><circle cx="68.5" cy="84.3" r="4.4"/><circle cx="22.9" cy="3.2" r="2.9"/><circle cx="26.8" cy="21.1" r="5.0"/><circle cx="87.6" cy="31.5" r="4.0"/><circle cx="39.6" cy="91.5" r="3.4"/><circle cx="26.5" cy="24.7" r="3.7"/><circle cx="26.3" cy="58.5" r="4.9"/><circle cx="39.9" cy="21.9" r="5.2"/><circle cx="51.0" cy="9.1" r="2.0"/><circle cx="11.0" cy="62.7" r="4.5"/><circle cx="42.2" cy="6.4" r="3.1"/><circle cx="99.6" cy="52.9" r="5.1"/><circle cx="86.1" cy="1.1" r="4.3"/><circle cx="68.2" cy="53.7" r="2.7"/><circle cx="64.1" cy="11.2" r="3.3"/><circle cx="45.4" cy="95.4" r="4.8"/><circle cx="26.3" cy="50.1" r="2.4"/><circle cx="91.3" cy="87.1" r="2.8"/><circle cx="63.9" cy="60.9" r="2.3"/><circle cx="76.3" cy="53.9" r="4.4"/><circle cx="53.0" cy="0.1" r="2.9"/><circle cx="1.9" cy="92.9" r="4.8"/><circle cx="83.2" cy="30.8" r="2.0"/><circle cx="87.8" cy="94.7" r="2.1"/><circle cx="48.6" cy="6.9" r="4.4"/><circle cx="76.6" cy="12.8" r="3.4"/><circle cx="55.0" cy="26.5" r="4.8"/><circle cx="42.3" cy="21.2" r="3.6"/><circle cx="73.0" cy="20.1" r="2.9"/><circle cx="99.5" cy="65.0" r="3.3"/><circle cx="51.8" cy="12.1" r="2.6"/><circle cx="33.8" cy="58.8" r="2.6"/><circle cx="22.0" cy="7.1" r="3.9"/><circle cx="22.9" cy="90.5" r="4.7"/><circle cx="7.1" cy="23.8" r="4.1"/><circle cx="21.4" cy="13.2" r="5.0"/><circle cx="57.1" cy="47.3" r="4.5"/><circle cx="80.7" cy="19.0" r="2.1"/><circle cx="43.1" cy="42.4" r="3.4"/><circle cx="72.9" cy="67.3" r="5.1"/><circle cx="9.8" cy="40.3" r="3.0"/><circle cx="86.2" cy="24.9" r="2.4"/><circle cx="44.9" cy="42.2" r="2.7"/><circle cx="25.0" cy="92.3" r="3.3"/><circle cx="86.1" cy="55.0" r="2.0"/><circle cx="99.9" cy="83.6" r="5.1"/><circle cx="92.6" cy="84.9" r="2.4"/><circle cx="48.6" cy="21.4" r="3.2"/><circle cx="5.9" cy="37.9" r="5.2"/><circle cx="26.5" cy="78.4" r="3.3"/><circle cx="42.3" cy="95.7" r="5.2"/><circle cx="55.6" cy="71.8" r="2.3"/><circle cx="29.7" cy="96.9" r="3.8"/><circle cx="54.2" cy="74.8" r="2.0"/></g></pattern><pattern id="stipg" width="60" height="60" patternUnits="userSpaceOnUse"><rect width="60" height="60" fill="#f6f6f6"/><g fill="#888"><circle cx="19.4" cy="9.1" r="4.0"/><circle cx="4.3" cy="32.2" r="3.1"/><circle cx="3.5" cy="30.4" r="2.1"/><circle cx="26.0" cy="4.2" r="2.3"/><circle cx="25.5" cy="49.6" r="2.4"/><circle cx="13.4" cy="37.6" r="4.8"/><circle cx="34.6" cy="23.8" r="4.9"/><circle cx="2.8" cy="51.5" r="2.9"/><circle cx="8.7" cy="7.1" r="2.9"/><circle cx="49.0" cy="10.8" r="3.7"/><circle cx="38.3" cy="22.3" r="3.6"/><circle cx="3.8" cy="3.6" r="2.6"/><circle cx="40.8" cy="25.7" r="2.9"/><circle cx="35.1" cy="27.2" r="2.9"/><circle cx="47.7" cy="41.9" r="2.7"/><circle cx="34.5" cy="31.5" r="4.6"/><circle cx="43.8" cy="17.3" r="4.9"/><circle cx="7.1" cy="25.1" r="4.3"/><circle cx="9.1" cy="29.3" r="2.1"/><circle cx="40.1" cy="45.9" r="3.7"/><circle cx="52.5" cy="18.8" r="4.1"/><circle cx="35.7" cy="34.8" r="3.4"/></g></pattern></defs>
<g transform="translate(485,25) scale(0.18202)"><g opacity="0.9"><path d="M612,420 C640,320 625,200 575,110 C545,60 505,42 472,55 C446,66 445,98 468,104 C484,108 492,92 481,84" fill="none" stroke="#5c5c5c" stroke-width="34" stroke-linecap="round" stroke-linejoin="round"/><path d="M612,420 C640,320 625,200 575,110 C545,60 505,42 472,55 C446,66 445,98 468,104 C484,108 492,92 481,84" fill="none" stroke="url(#stipg)" stroke-width="22" stroke-linecap="round" stroke-linejoin="round"/><path d="M605,400 C605,320 575,235 535,195 C508,170 472,166 460,190 C452,210 470,226 488,216 C496,210 492,198 484,198" fill="none" stroke="#5c5c5c" stroke-width="32" stroke-linecap="round" stroke-linejoin="round"/><path d="M605,400 C605,320 575,235 535,195 C508,170 472,166 460,190 C452,210 470,226 488,216 C496,210 492,198 484,198" fill="none" stroke="url(#stipg)" stroke-width="20" stroke-linecap="round" stroke-linejoin="round"/><path d="M595,385 C580,330 548,292 516,284 C490,278 470,292 478,306 C486,318 505,312 502,300" fill="none" stroke="#5c5c5c" stroke-width="30" stroke-linecap="round" stroke-linejoin="round"/><path d="M595,385 C580,330 548,292 516,284 C490,278 470,292 478,306 C486,318 505,312 502,300" fill="none" stroke="url(#stipg)" stroke-width="18" stroke-linecap="round" stroke-linejoin="round"/></g><path d="M205,575 C185,630 160,670 120,700 C100,715 82,726 66,736" fill="none" stroke="#111" stroke-width="50" stroke-linecap="round" stroke-linejoin="round"/><path d="M205,575 C185,630 160,670 120,700 C100,715 82,726 66,736" fill="none" stroke="url(#stip)" stroke-width="36" stroke-linecap="round" stroke-linejoin="round"/><path d="M335,585 C355,630 362,690 340,735 C325,755 310,768 295,778" fill="none" stroke="#111" stroke-width="54" stroke-linecap="round" stroke-linejoin="round"/><path d="M335,585 C355,630 362,690 340,735 C325,755 310,768 295,778" fill="none" stroke="url(#stip)" stroke-width="40" stroke-linecap="round" stroke-linejoin="round"/><path d="M560,610 C585,645 608,690 628,735" fill="none" stroke="#111" stroke-width="46" stroke-linecap="round" stroke-linejoin="round"/><path d="M560,610 C585,645 608,690 628,735" fill="none" stroke="url(#stip)" stroke-width="32" stroke-linecap="round" stroke-linejoin="round"/><g stroke="#111" stroke-width="9" fill="none" stroke-linecap="round"><path d="M70,735 L42,748 M72,738 L55,762 M85,730 L92,752 M100,722 L148,712 L158,732"/><path d="M292,775 L262,792 M298,778 L292,800 M306,772 L330,792 M315,762 L345,770"/><path d="M626,735 L605,752 M632,738 L636,760 M640,735 L672,750 M648,730 L700,745"/></g><path d="M560,598 C610,590 640,540 650,470 C660,400 630,340 580,320 C530,302 470,316 445,360 C426,400 440,448 478,462 C512,470 534,442 522,418 C512,402 494,406 496,420" fill="none" stroke="#111" stroke-width="54" stroke-linecap="round" stroke-linejoin="round"/><path d="M560,598 C610,590 640,540 650,470 C660,400 630,340 580,320 C530,302 470,316 445,360 C426,400 440,448 478,462 C512,470 534,442 522,418 C512,402 494,406 496,420" fill="none" stroke="url(#stip)" stroke-width="40" stroke-linecap="round" stroke-linejoin="round"/><circle cx="498" cy="424" r="15" fill="#111"/><path d="M185,385 C215,365 275,362 310,375 C335,388 348,415 343,440 C338,458 320,465 305,470 C312,495 332,515 362,530 C420,555 500,578 585,585 L592,622 C540,634 470,627 400,607 C370,599 345,594 330,592 C300,588 240,592 212,588 C192,560 172,520 162,490 C150,458 158,410 185,385 Z" fill="url(#stip)" stroke="#111" stroke-width="8" stroke-linejoin="round"/><path d="M215,405 C228,398 242,400 250,408 M275,398 C288,393 300,395 306,403" stroke="#111" stroke-width="10" fill="none"/><path d="M165,470 C190,490 240,492 290,472" stroke="#111" stroke-width="7" fill="none"/><path d="M170,500 C200,520 240,520 300,505" stroke="#333" stroke-width="5" fill="none" stroke-dasharray="8 10"/><path d="M200,765 L265,770 M365,768 L420,760 M530,718 L600,716 M650,742 L700,740 L740,748 L790,746" stroke="#222" stroke-width="6" fill="none"/></g>
<g transform="translate(485,230) scale(0.1759)"><g opacity="0.9"><path d="M268,205 C280,280 310,350 350,405 C395,465 450,515 520,560" fill="none" stroke="#5a5a5a" stroke-width="36" stroke-linecap="round" stroke-linejoin="round"/><path d="M268,205 C280,280 310,350 350,405 C395,465 450,515 520,560" fill="none" stroke="url(#stipg)" stroke-width="24" stroke-linecap="round" stroke-linejoin="round"/><path d="M690,575 C730,500 765,400 785,260 C797,170 792,95 762,60 C740,38 712,48 715,72 C718,90 737,86 740,74" fill="none" stroke="#5a5a5a" stroke-width="36" stroke-linecap="round" stroke-linejoin="round"/><path d="M690,575 C730,500 765,400 785,260 C797,170 792,95 762,60 C740,38 712,48 715,72 C718,90 737,86 740,74" fill="none" stroke="url(#stipg)" stroke-width="24" stroke-linecap="round" stroke-linejoin="round"/><path d="M665,590 C705,500 700,390 650,320 C600,270 520,270 470,300 C432,325 425,360 445,378 C462,392 485,380 478,362" fill="none" stroke="#5a5a5a" stroke-width="38" stroke-linecap="round" stroke-linejoin="round"/><path d="M665,590 C705,500 700,390 650,320 C600,270 520,270 470,300 C432,325 425,360 445,378 C462,392 485,380 478,362" fill="none" stroke="url(#stipg)" stroke-width="26" stroke-linecap="round" stroke-linejoin="round"/><path d="M625,585 C648,510 630,440 580,405 C548,385 515,395 515,425 C515,448 540,452 548,436" fill="none" stroke="#5a5a5a" stroke-width="34" stroke-linecap="round" stroke-linejoin="round"/><path d="M625,585 C648,510 630,440 580,405 C548,385 515,395 515,425 C515,448 540,452 548,436" fill="none" stroke="url(#stipg)" stroke-width="22" stroke-linecap="round" stroke-linejoin="round"/><path d="M590,590 C568,525 580,470 615,445 C640,430 660,448 650,468" fill="none" stroke="#5a5a5a" stroke-width="32" stroke-linecap="round" stroke-linejoin="round"/><path d="M590,590 C568,525 580,470 615,445 C640,430 660,448 650,468" fill="none" stroke="url(#stipg)" stroke-width="20" stroke-linecap="round" stroke-linejoin="round"/><path d="M705,600 C790,565 860,505 868,450 C872,418 840,405 815,420 C797,432 800,455 815,455" fill="none" stroke="#5a5a5a" stroke-width="32" stroke-linecap="round" stroke-linejoin="round"/><path d="M705,600 C790,565 860,505 868,450 C872,418 840,405 815,420 C797,432 800,455 815,455" fill="none" stroke="url(#stipg)" stroke-width="20" stroke-linecap="round" stroke-linejoin="round"/><path d="M690,645 C760,648 815,615 830,575 C838,552 815,545 800,556" fill="none" stroke="#5a5a5a" stroke-width="30" stroke-linecap="round" stroke-linejoin="round"/><path d="M690,645 C760,648 815,615 830,575 C838,552 815,545 800,556" fill="none" stroke="url(#stipg)" stroke-width="18" stroke-linecap="round" stroke-linejoin="round"/><path d="M688,362 L832,354" fill="none" stroke="#5a5a5a" stroke-width="30" stroke-linecap="round" stroke-linejoin="round"/><path d="M688,362 L832,354" fill="none" stroke="url(#stipg)" stroke-width="18" stroke-linecap="round" stroke-linejoin="round"/></g><path d="M165,565 C140,585 110,605 88,618" fill="none" stroke="#777" stroke-width="40" stroke-linecap="round" stroke-linejoin="round"/><path d="M165,565 C140,585 110,605 88,618" fill="none" stroke="url(#stipg)" stroke-width="28" stroke-linecap="round" stroke-linejoin="round"/><path d="M355,695 C335,728 312,752 292,772" fill="none" stroke="#888" stroke-width="34" stroke-linecap="round" stroke-linejoin="round"/><path d="M355,695 C335,728 312,752 292,772" fill="none" stroke="url(#stipg)" stroke-width="22" stroke-linecap="round" stroke-linejoin="round"/><path d="M215,545 C185,600 140,632 82,650" fill="none" stroke="#111" stroke-width="48" stroke-linecap="round" stroke-linejoin="round"/><path d="M215,545 C185,600 140,632 82,650" fill="none" stroke="url(#stip)" stroke-width="34" stroke-linecap="round" stroke-linejoin="round"/><path d="M345,610 C380,650 375,685 330,700" fill="none" stroke="#111" stroke-width="46" stroke-linecap="round" stroke-linejoin="round"/><path d="M345,610 C380,650 375,685 330,700" fill="none" stroke="url(#stip)" stroke-width="32" stroke-linecap="round" stroke-linejoin="round"/><path d="M570,640 C600,670 595,700 556,716" fill="none" stroke="#111" stroke-width="44" stroke-linecap="round" stroke-linejoin="round"/><path d="M570,640 C600,670 595,700 556,716" fill="none" stroke="url(#stip)" stroke-width="30" stroke-linecap="round" stroke-linejoin="round"/><g stroke="#111" stroke-width="9" fill="none" stroke-linecap="round"><path d="M85,650 L30,660 M90,652 L55,682 M100,655 L100,690 M120,650 L160,680"/><path d="M330,700 L280,690 M335,702 L300,722 M345,700 L360,735 M360,690 L410,700"/><path d="M556,716 L538,745 M566,716 L600,736 M576,710 L650,705 L690,725"/><path d="M170,700 L200,742"/></g><path d="M615,632 C690,608 790,565 895,522" fill="none" stroke="#111" stroke-width="54" stroke-linecap="round" stroke-linejoin="round"/><path d="M615,632 C690,608 790,565 895,522" fill="none" stroke="url(#stip)" stroke-width="40" stroke-linecap="round" stroke-linejoin="round"/><path d="M130,455 C128,425 150,405 185,402 C225,398 262,410 290,435 C330,470 380,518 440,552 C500,585 560,600 625,606 L640,655 C580,665 510,655 450,636 C390,616 340,590 300,558 C280,542 255,534 225,530 C185,522 140,495 130,455 Z" fill="url(#stip)" stroke="#111" stroke-width="8" stroke-linejoin="round"/><path d="M192,440 C208,428 232,430 244,444" stroke="#111" stroke-width="12" fill="none"/><path d="M135,470 C170,492 220,500 270,492" stroke="#111" stroke-width="6" fill="none"/><path d="M160,385 L166,402" stroke="#555" stroke-width="6"/></g>
</svg></body></html>
